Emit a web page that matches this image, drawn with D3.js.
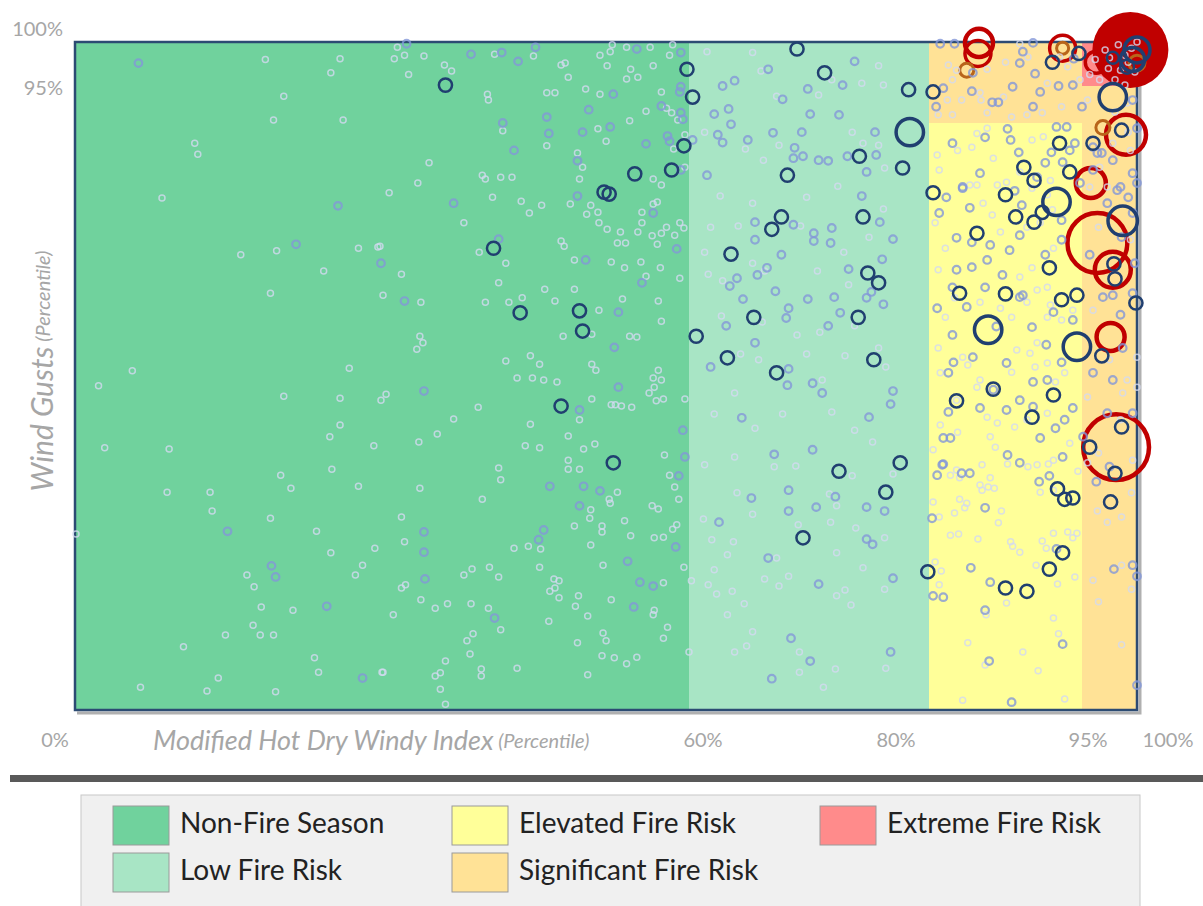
<!DOCTYPE html>
<html>
<head>
<meta charset="utf-8">
<script src="https://cdn.jsdelivr.net/npm/d3@7"></script>
<style>
body { margin: 0; background: #fff; }
svg { display: block; }
text { font-family: Lato, "Open Sans", sans-serif; }
</style>
</head>
<body>
<div id="chart"></div>
<script>
'use strict'

// risk zones, in percentiles: [x0, x1, y0, y1, zone]
var zoneNames = ["Non-Fire Season", "Low Fire Risk", "Elevated Fire Risk", "Significant Fire Risk", "Extreme Fire Risk"];
var zoneColors = ["#70d29d", "#a8e5c5", "#ffff99", "#ffe296", "#ff8b8b"];
var zoneRects = [
    [0, 60, 0, 100, 0],
    [60, 80, 0, 100, 1],
    [80, 95, 0, 90, 2],
    [80, 95, 90, 100, 3],
    [95, 100, 0, 95, 3],
    [95, 100, 95, 100, 4]
];

var xTicks = [0, 60, 80, 95, 100];
var yTicks = [95, 100];

// days with no notable fire (faint rings): [hdw percentile, gust percentile]
var lightPts = [
[18.6,98.0],[25.9,98.1],[25.0,96.5],[20.4,93.6],[19.4,90.4],[26.2,90.4],[11.7,86.9],[12.0,85.2],[8.5,78.5],[16.2,69.8],[19.7,70.4],[27.7,70.8],[29.6,71.0],[24.3,67.3],[19.1,63.9],[30.1,63.6],[5.6,52.0],[2.3,49.7],[26.8,52.4],[20.4,48.1],[25.9,47.8],[29.9,47.5],[25.9,43.7],[24.9,41.9],[2.9,40.2],[9.2,40.0],[29.2,40.5],[25.1,36.9],[20.1,36.0],[21.1,34.0],[27.7,34.3],[9.0,33.4],[13.2,33.4],[13.4,30.5],[19.1,29.4],[0.1,27.0],[23.6,27.4],[25.0,24.1],[29.3,24.8],[16.8,20.7],[17.5,18.9],[28.1,22.2],[27.4,20.7],[18.2,15.8],[21.3,15.3],[17.4,13.0],[14.7,11.5],[18.1,11.5],[19.4,11.5],[10.6,9.7],[23.4,8.0],[23.8,5.8],[30.0,5.8],[14.0,4.9],[6.4,3.5],[12.9,2.9],[19.6,2.8],
[33.8,62.5],[40.1,62.5],[42.4,62.5],[43.7,63.2],[45.9,64.5],[48.8,64.5],[46.9,62.7],[41.4,65.5],[51.2,61.3],[53.5,63.0],[57.0,62.7],[57.3,59.6],[33.7,57.3],[34.0,56.3],[33.4,55.3],[47.7,57.3],[50.5,57.6],[54.2,57.3],[54.9,57.2],[42.1,53.5],[44.5,54.3],[45.4,53.0],[43.2,50.9],[44.7,50.9],[45.8,50.6],[47.1,50.3],[50.5,53.0],[50.9,52.1],[57.0,52.1],[56.5,50.9],[57.3,50.6],[56.6,49.5],[56.1,48.6],[56.8,47.4],[57.5,47.7],[59.6,47.7],[30.4,48.4],[39.4,46.4],[37.0,44.6],[44.5,43.8],[49.3,44.5],[50.5,47.7],[52.4,46.8],[52.8,46.8],[53.4,46.6],[54.4,46.4],[35.4,42.3],[33.6,41.1],[44.0,40.5],[45.4,40.2],[48.2,42.0],[49.7,40.0],[50.8,40.8],[48.2,38.3],[48.2,36.9],[49.3,36.9],[57.6,39.1],[41.4,37.1],[41.6,35.3],[33.7,34.0],[39.8,32.3],[53.0,33.4],[52.2,32.3],[52.3,31.7],[50.4,30.7],[50.3,29.4],[58.1,36.0],[58.6,34.2],[59.0,32.3],[56.4,31.3],[57.0,30.8],[31.9,29.6],[32.2,25.8],[42.9,24.8],[44.3,25.1],[45.5,24.7],[48.8,28.2],[51.5,28.2],[51.5,27.3],[50.4,25.3],[53.7,29.0],[54.3,26.7],[56.6,26.4],[57.5,26.5],[58.4,27.7],[58.8,28.4],[51.6,22.2],[45.4,21.9],[59.5,21.9],[38.0,20.7],[38.8,21.6],[40.5,21.9],[41.4,20.4],[32.3,19.2],[31.9,18.7],[46.8,20.1],[47.3,19.8],[46.9,18.7],[46.4,18.2],[47.3,17.2],[49.2,17.5],[48.9,15.9],[57.5,19.5],[60.2,19.8],[33.8,16.9],[35.2,15.6],[36.4,16.3],[38.7,16.3],[40.4,15.6],[31.1,14.6],[41.6,12.3],[52.4,16.9],[56.6,15.3],[56.5,14.6],[50.1,14.4],[46.3,13.6],[38.9,11.7],[38.3,10.6],[38.6,8.6],[36.2,7.5],[35.7,5.7],[35.2,5.2],[35.7,3.2],[36.2,0.9],[30.1,5.8],[39.7,6.3],[39.7,5.2],[43.2,6.4],[49.1,10.3],[51.6,11.8],[51.9,10.6],[51.5,8.3],[52.7,8.0],[53.9,7.1],[54.9,8.1],[50.1,5.4],[57.9,12.7],[57.5,11.0],[60.0,8.9],
[31.5,99.4],[31.2,98.1],[32.2,98.5],[34.1,98.4],[32.6,96.3],[36.1,97.4],[36.8,96.7],[41.0,98.6],[44.8,98.4],[47.5,97.4],[47.9,97.6],[48.2,96.0],[51.3,98.5],[52.3,98.9],[52.5,99.7],[53.9,99.4],[56.2,99.4],[58.4,99.7],[58.1,98.5],[52.0,97.3],[54.3,96.9],[56.5,97.3],[53.9,95.8],[55.0,96.0],[49.9,94.6],[51.3,93.9],[46.1,94.1],[46.9,94.1],[40.3,93.9],[40.4,93.1],[57.3,94.2],[57.8,92.0],[58.3,91.4],[58.9,90.4],[59.6,88.2],[55.8,91.6],[54.2,90.3],[51.1,89.1],[51.9,87.2],[58.5,86.0],[41.8,88.8],[46.1,86.5],[34.6,83.9],[33.5,80.8],[30.7,79.3],[39.8,82.0],[40.1,81.4],[41.6,81.7],[42.7,81.7],[49.1,85.4],[49.6,83.2],[49.3,81.4],[56.5,81.4],[57.3,80.5],[59.6,83.2],[40.8,78.6],[43.6,78.0],[45.6,77.4],[44.4,76.2],[38.0,74.7],[48.4,77.6],[50.4,77.4],[51.1,76.3],[50.0,76.0],[51.2,74.7],[52.0,73.7],[56.5,77.6],[56.9,77.9],[55.4,76.3],[55.4,74.7],[55.0,73.3],[53.3,73.3],[53.0,71.6],[53.8,71.6],[56.4,72.7],[57.3,73.1],[57.8,74.0],[58.6,72.8],[59.1,74.7],[59.5,73.9],[56.9,71.4],[39.5,70.2],[47.5,71.9],[47.8,71.1],[48.8,69.0],[52.4,68.7],[55.3,68.7],[57.2,67.8],[53.7,67.8],[55.8,66.5],[59.1,66.2],[42.1,68.5],[31.9,66.8],[29.8,71.1],
[61.5,98.9],[65.3,98.8],[66.0,96.7],[67.3,93.6],[70.8,93.8],[71.9,95.7],[74.4,95.3],[75.8,97.3],[76.2,95.1],[61.3,88.6],[64.7,86.0],[66.2,84.3],[67.5,86.6],[73.6,88.6],[74.5,86.9],[75.8,86.6],[76.3,83.1],[62.6,78.8],[65.3,77.7],[69.8,78.6],[72.4,80.3],[76.2,76.8],[61.8,74.0],[64.1,74.2],[69.3,74.2],[72.9,70.2],[75.0,72.5],[61.3,70.2],[61.6,66.8],[62.8,65.8],[65.3,68.5],[66.3,67.3],[70.7,67.3],[73.3,65.2],[62.7,60.4],[66.1,59.5],[69.0,57.5],[70.9,57.9],[73.8,58.9],[75.8,55.5],[64.3,54.6],[65.8,53.7],[69.8,54.6],[73.0,54.3],[76.4,52.6],[71.1,50.6],[63.8,48.6],[62.1,45.4],[65.5,43.2],[67.8,45.4],[71.9,45.7],[73.8,42.9],[75.3,41.1],[61.3,37.6],[63.8,38.8],[68.9,37.4],[67.1,37.3],[71.7,33.1],[72.3,31.3],[73.6,35.9],[77.0,36.2],[64.0,33.3],[65.3,30.0],[61.2,29.3],[61.9,26.1],[63.7,25.8],[69.1,28.4],[71.8,28.8],[73.9,27.9],[76.3,26.4],[63.2,23.8],[67.3,23.3],[72.3,24.1],[62.1,21.5],[66.3,20.1],[68.3,20.5],[74.5,21.8],[76.3,18.5],[61.6,19.2],[62.3,17.8],[63.6,18.2],[64.6,16.3],[67.5,19.0],[73.0,18.4],[73.5,16.1],[72.3,17.5],[65.3,12.0],[63.2,14.6],[69.2,8.9],[63.8,8.9],[64.8,9.8],[72.2,6.3],[69.2,5.8],[71.2,3.5],[76.4,6.4],
[81.8,93.1],[80.9,91.1],[82.3,95.7],[82.7,96.8],[81.9,97.4],[85.0,94.1],[85.1,93.1],[85.7,91.4],[87.3,93.5],[87.5,97.7],[91.6,95.3],[91.1,91.4],[93.0,92.2],[94.8,95.7],[95.5,93.1],[93.6,97.2],[85.7,96.9],[83.2,93.1],[82.3,91.1],[88.1,90.8],[89.6,91.1],[92.8,98.3],[88.9,99.8],[89.7,98.3],
[85.7,89.2],[84.7,88.4],[82.8,85.8],[84.2,86.3],[86.3,84.6],[90.1,87.4],[91.2,87.9],[80.8,85.1],[81.0,82.8],[84.0,80.5],[86.7,80.5],[87.6,80.9],[88.9,82.5],[91.9,81.2],
[96.6,83.2],[98.0,91.5],[99.1,92.7],[99.4,85.8],[97.8,86.9],[99.2,88.6],[97.3,80.2],
[80.6,74.7],[84.7,80.5],[85.3,77.7],[86.2,75.9],[87.0,73.3],[89.6,74.0],[81.6,70.8],[80.9,67.5],[88.9,66.4],[90.1,67.8],[90.6,64.4],[89.6,62.5],[91.6,64.8],[92.2,70.8],[90.9,74.7],[92.1,76.7],[91.6,79.0],[90.1,80.0],[82.5,63.2],[81.6,60.2],[85.0,62.5],[87.0,61.6],[88.1,60.2],[91.6,60.2],[93.0,59.8],[94.1,61.3],[91.9,62.1],[80.9,55.5],[83.3,54.1],[83.8,52.9],[81.1,51.7],[85.0,50.6],[88.1,51.8],[88.6,55.2],[89.9,54.7],[90.6,56.3],[91.6,53.2],[93.3,51.7],[92.4,50.3],[90.4,52.6],[84.7,49.5],[82.7,47.5],[81.1,43.7],[82.8,42.6],[80.4,39.9],[85.7,44.9],[86.7,44.0],[88.4,43.4],[89.6,44.5],[91.6,45.5],[86.0,41.9],[86.5,40.3],[92.2,38.3],[93.8,40.9],[89.7,37.3],[85.2,37.6],
[95.7,80.2],[96.5,74.0],[96.0,61.3],[99.4,72.1],[98.7,48.6],[95.5,48.0],[98.5,44.5],[97.5,53.7],[100,54.1],[96.5,39.4],[99.6,38.3],[95.5,37.9],[100,49.5],[99.1,50.6],
[82.1,36.0],[82.7,36.8],[83.0,35.6],[85.0,34.5],[86.0,35.6],[85.2,33.7],[85.8,34.2],[86.4,34.0],[87.7,37.7],[90.6,37.6],[91.7,37.7],[90.9,33.4],[92.2,33.7],[94.6,36.6],[81.0,29.6],[82.5,30.2],[80.4,31.9],[83.0,32.3],[83.5,31.0],[83.7,31.7],[87.1,30.5],[86.8,28.7],[82.1,26.8],[82.9,27.0],[84.8,26.2],[88.0,25.8],[88.2,25.1],[88.9,24.2],[91.1,25.9],[91.5,24.8],[92.2,27.1],[93.6,27.3],[94.1,26.4],[94.5,27.1],[80.6,22.7],[81.2,21.3],[81.0,19.2],[87.6,16.4],[90.5,22.2],[92.6,19.3],[94.3,20.4],[85.6,14.6],[83.8,10.3],[85.5,6.9],[89.2,8.9],[90.7,6.0],[92.7,11.7],[92.2,14.1],[83.3,1.5],[93.3,1.7],
[96.4,30.5],[97.3,28.8],[98.6,29.6],[99.5,33.3],[98.6,22.2],[99.5,18.5],[96.0,19.9],[96.5,16.6],[98.6,10.0],
[97.1,99.1],[97.5,98.2],[98.3,99.7],[98.9,98.5],[99.5,99.3],[99.2,97.7],[98.5,96.8],[99.8,96.6],[97.4,97.0],[96.2,98.0],[95.7,96.3],[96.6,95.7],[98.0,95.7],[98.9,95.1],[100,100]
];

// days with small fires (blue rings)
var midPts = [
[6.2,97.6],[25.7,77.3],[21.6,71.4],[29.9,68.5],[14.9,27.4],[19.2,22.1],[19.6,20.4],[24.6,15.9],[28.1,4.9],
[32.2,62.7],[53.1,61.0],[55.4,65.5],[52.7,55.6],[53.1,49.5],[34.1,48.9],[49.3,46.0],[59.4,42.9],[59.6,38.8],[46.4,34.3],[49.7,34.3],[51.3,33.6],[49.3,31.3],[59.0,35.9],[34.1,27.3],[34.1,24.2],[45.3,26.1],[45.8,27.6],[58.7,25.0],[54.0,22.8],[34.2,20.1],[55.2,19.6],[56.5,19.0],[41.0,14.1],[54.6,15.8],
[32.4,99.8],[38.7,98.6],[41.7,98.8],[43.3,97.8],[45.0,99.4],[54.9,99.2],[59.2,98.8],[52.6,93.9],[59.2,94.9],[59.1,94.2],[57.3,92.3],[59.2,91.4],[59.4,90.5],[50.2,91.8],[46.1,90.8],[52.3,89.4],[49.6,88.6],[46.3,88.4],[55.8,86.8],[57.9,88.0],[58.1,87.2],[60.3,87.4],[41.8,90.0],[42.9,85.8],[49.1,84.2],[59.2,82.8],[37.0,77.7],[49.1,78.8],[56.5,76.2],[58.8,70.7],[41.4,72.2],[49.9,69.0],
[66.6,96.9],[63.8,95.6],[62.8,95.0],[67.8,93.2],[69.9,94.6],[72.8,95.1],[73.8,97.8],[63.3,91.9],[62.1,91.2],[63.5,89.8],[62.4,88.2],[62.8,87.0],[64.9,87.4],[67.0,88.5],[69.4,88.6],[70.1,91.2],[72.5,91.1],[71.6,84.2],[70.8,84.3],[68.8,86.2],[68.7,84.6],[69.5,84.9],[73.2,84.9],[75.5,88.6],[75.6,85.1],[74.8,82.5],[61.5,82.0],[65.5,74.8],[65.5,72.1],[68.7,74.4],[70.4,73.1],[70.4,71.9],[71.8,71.6],[71.9,73.9],[74.4,78.8],[75.9,74.8],[77.0,72.2],[67.7,69.8],[66.5,67.8],[65.7,66.7],[64.0,66.2],[63.4,65.0],[64.5,63.0],[67.2,64.2],[68.3,61.6],[68.1,60.1],[69.9,63.0],[72.1,63.3],[72.6,60.9],[73.3,67.6],[74.8,63.2],[75.2,64.1],[76.2,62.2],[76.1,69.1],[71.6,58.9],[63.1,58.9],[65.5,56.3],[61.8,52.6],[68.3,52.3],[68.2,49.8],[70.3,50.1],[71.1,48.6],[75.0,44.9],[77.0,48.9],[76.8,46.9],[64.4,44.8],[67.1,39.2],[70.3,39.9],[68.3,33.7],[65.2,32.5],[68.3,30.5],[70.6,31.1],[72.2,32.7],[74.8,31.1],[76.3,30.5],[62.5,28.8],[75.3,25.4],[74.8,26.2],[66.6,23.3],[70.8,19.3],[77.0,20.2],[68.5,11.0],[70.1,7.5],[66.9,4.8],[76.8,8.9],
[81.4,94.7],[80.7,92.2],[84.2,94.3],[86.2,92.8],[86.8,92.8],[88.2,94.9],[89.2,98.9],[88.9,97.6],[90.2,99.9],[90.4,96.4],[90.9,94.2],[92.7,95.0],[90.2,92.2],[94.1,95.1],[95.0,92.2],[94.2,98.1],[84.3,96.5],[81.1,99.8],[82.5,99.8],
[87.7,89.1],[88.0,87.4],[85.5,87.8],[82.3,86.9],[88.8,85.5],[92.5,89.4],[93.5,89.4],[94.3,86.9],[93.8,85.8],[92.0,85.5],[91.4,83.9],[93.1,84.0],[83.3,80.0],[85.0,82.3],[88.4,79.6],[90.6,81.7],[94.8,80.8],[96.0,82.8],
[96.4,85.4],[99.6,93.1],[100,89.2],[99.6,82.3],[96.8,85.4],[96.0,86.3],[97.8,84.3],[100,80.8],[98.5,80.2],
[81.7,78.6],[81.0,76.2],[84.0,77.0],[83.3,80.2],[86.0,71.3],[88.9,72.8],[87.9,70.5],[84.2,71.7],[82.7,72.4],[82.7,67.5],[84.2,67.9],[85.7,69.0],[87.2,66.7],[89.2,63.6],[91.4,69.8],[93.0,72.1],[93.0,75.1],[89.1,77.4],[82.3,64.8],[80.8,61.6],[83.7,61.8],[85.5,64.8],[88.9,63.3],[90.1,58.7],[92.2,61.0],[94.1,59.8],[82.3,57.5],[82.4,53.3],[84.3,54.1],[81.9,51.7],[87.6,53.2],[91.5,56.0],[93.0,53.3],[91.6,50.6],[86.3,49.1],[81.9,45.7],[81.4,41.7],[82.1,41.7],[81.3,37.6],[83.2,36.3],[85.0,46.3],[87.6,46.0],[90.2,46.5],[92.4,43.2],[93.3,44.5],[94.1,46.3],[88.9,47.5],[90.2,50.3],[87.7,39.1],[88.9,37.9],[90.9,41.7],[93.1,38.8],[84.0,36.3],[86.6,58.8],
[97.3,77.7],[95.7,69.8],[96.9,63.3],[97.8,63.6],[99.6,63.9],[98.5,60.6],[99.8,68.5],[96.0,51.7],[97.8,50.6],[97.3,45.5],[99.6,45.5],[98.7,55.5],[95.1,41.9],[97.5,37.3],[98.2,79.7],[99.2,78.6],[99.6,76.2],[98.6,72.5],
[81.4,37.7],[80.8,36.0],[91.8,35.9],[90.8,35.0],[80.3,29.4],[85.5,31.0],[92.5,24.7],[80.4,17.5],[81.4,17.3],[84.1,21.8],[86.0,19.6],[85.5,15.3],[85.9,7.5],[93.1,10.1],[88.1,1.2],
[96.3,35.0],[97.9,21.6],[99.6,22.2],[100,20.5],[100,3.8]
];

// larger fires (navy rings): [x, y, size]
var navyPts = [
[36.2,95.1,3],[59.8,96.9,3],[60.3,93.5,3],[59.5,86.5,3],[54.7,82.2,3],[58.3,82.8,3],[51.7,79.4,3],[52.2,79.1,3],[40.9,70.8,3],[43.5,60.9,3],[49.3,61.2,3],[49.6,58.1,3],[47.5,46.6,3],[52.6,37.9,3],[60.6,57.3,3],
[69.0,99.2,3],[71.3,96.5,3],[74.2,84.9,3],[68.2,82.0,3],[67.7,75.6,3],[66.9,73.7,3],[74.5,75.6,3],[63.5,69.9,3],[74.9,67.0,3],[75.8,65.5,3],[65.4,60.2,3],[74.1,60.2,3],[63.2,54.0,3],[67.3,51.7,3],[75.4,53.7,3],[72.5,36.6,3],[76.4,33.4,3],[69.5,26.4,3],[77.6,37.9,3],[77.8,83.1,3],[78.3,94.5,3],[80.4,94.2,3],[80.4,79.3,3],[79.9,21.2,3],[78.4,88.6,13],
[87.5,79.0,3],[88.5,75.6,3],[90.3,74.8,3],[91.1,76.3,3],[92.5,77.9,13],[84.7,73.1,3],[91.8,67.8,3],[83.0,63.9,3],[87.5,63.8,3],[93.0,62.9,3],[94.5,63.6,3],[85.8,58.3,13],[94.5,55.7,13],[96.8,54.3,3],[98.7,75.0,15],[97.9,68.4,3],[98.0,66.1,3],[99.9,62.4,3],[82.7,47.4,3],[86.3,49.2,3],[92.2,48.3,3],[90.1,44.9,3],[98.6,43.4,3],[95.7,40.3,3],[98.0,36.3,3],
[92.8,86.9,3],[89.3,83.2,3],[90.3,81.2,3],[93.8,82.5,3],[97.8,93.5,13],[98.6,88.9,3],[96.0,86.9,3],[92.1,97.7,3],[94.7,98.7,3],
[92.6,33.9,3],[93.3,32.3,3],[94.1,32.5,3],[93.1,24.1,3],[91.8,21.6,3],[87.5,18.7,3],[89.6,18.2,3],[97.6,31.9,3],
[100,99.1,11.7],[99.6,98.0,10],[99.1,97.2,3.4],[97.8,98.2,2.5]
];

// catastrophic fires (red rings) and the brown ones
var redPts = [
[84.9,99.9,13.6],[84.8,98.7,11.7],[93.1,99.3,11.7],[95.8,80.8,15.6],[99.0,88.2,27.7],[96.4,71.6,62],[97.8,67.5,22.4],[97.6,57.2,13.6],[98.1,40.3,75],[96.3,97.7,8.4]
];
var redFilled = [[99.4,99.1,100]];
var brownPts = [[83.7,96.8,3.4],[93.1,99.3,2.5],[96.9,89.3,3.4],[100,97.6,4.4]];

var width = 1203, height = 906;

var svg = d3.select("#chart").append("svg").attr("width", width).attr("height", height);

// piecewise scales, the chart stretches the upper percentiles
var x = d3.scaleLinear().domain([0, 60, 80, 95, 100]).range([75, 689, 929, 1082, 1137]);
var y = d3.scaleLinear().domain([0, 90, 95, 100]).range([710, 123, 86, 42]);
var r = d3.scaleSqrt().domain([0, 100]).range([0, 38]);

// zones
svg.append("g").selectAll("rect").data(zoneRects).enter().append("rect")
    .attr("x", function(d) { return x(d[0]); })
    .attr("y", function(d) { return y(d[3]); })
    .attr("width", function(d) { return x(d[1]) - x(d[0]); })
    .attr("height", function(d) { return y(d[2]) - y(d[3]); })
    .attr("fill", function(d) { return zoneColors[d[4]]; });

// frame with its little shadow
var x0 = x(0), x1 = x(100), y0 = y(0), y1 = y(100);
svg.append("path")
    .attr("d", "M" + (x1 + 3) + "," + (y1 + 4) + "V" + (y0 + 3) + "H" + (x0 + 2))
    .attr("fill", "none").attr("stroke", "#b0b0b0").attr("stroke-width", 3);
svg.append("rect")
    .attr("x", x0).attr("y", y1).attr("width", x1 - x0).attr("height", y0 - y1)
    .attr("fill", "none").attr("stroke", "#2c4b73").attr("stroke-width", 2.5);

// big filled red one and red rings
svg.append("g").selectAll("circle").data(redFilled).enter().append("circle")
    .attr("cx", function(d) { return x(d[0]); })
    .attr("cy", function(d) { return y(d[1]); })
    .attr("r", function(d) { return r(d[2]); })
    .attr("fill", "#c00000");

svg.append("g").selectAll("circle").data(redPts).enter().append("circle")
    .attr("cx", function(d) { return x(d[0]); })
    .attr("cy", function(d) { return y(d[1]); })
    .attr("r", function(d) { return r(d[2]); })
    .attr("fill", "none").attr("stroke", "#c00000")
    .attr("stroke-width", function(d) { return d[2] > 12 ? 4.5 : 3.5; });

svg.append("g").selectAll("circle").data(brownPts).enter().append("circle")
    .attr("cx", function(d) { return x(d[0]); })
    .attr("cy", function(d) { return y(d[1]); })
    .attr("r", function(d) { return r(d[2]); })
    .attr("fill", "none").attr("stroke", "#b8651b").attr("stroke-width", 3);

// faint rings
svg.append("g").selectAll("circle").data(lightPts).enter().append("circle")
    .attr("cx", function(d) { return x(d[0]); })
    .attr("cy", function(d) { return y(d[1]); })
    .attr("r", 3)
    .attr("fill", "none").attr("stroke", "#d3d9f0").attr("stroke-opacity", 0.8).attr("stroke-width", 1.5);

svg.append("g").selectAll("circle").data(midPts).enter().append("circle")
    .attr("cx", function(d) { return x(d[0]); })
    .attr("cy", function(d) { return y(d[1]); })
    .attr("r", 3.8)
    .attr("fill", "none").attr("stroke", "#8397d8").attr("stroke-opacity", 0.8).attr("stroke-width", 2.2);

// navy rings
svg.append("g").selectAll("circle").data(navyPts).enter().append("circle")
    .attr("cx", function(d) { return x(d[0]); })
    .attr("cy", function(d) { return y(d[1]); })
    .attr("r", function(d) { return r(d[2]); })
    .attr("fill", "none").attr("stroke", "#203f70")
    .attr("stroke-width", function(d) { return d[2] > 8 ? 3.5 : 2.5; });

// tick labels
var xTickNudge = [-20, 14, -33, 6, 31];
svg.append("g").selectAll("text").data(xTicks).enter().append("text")
    .attr("x", function(d, i) { return x(d) + xTickNudge[i]; })
    .attr("y", 742)
    .attr("text-anchor", "middle").attr("dominant-baseline", "middle")
    .attr("font-size", 20).attr("fill", "#a6a6a6")
    .text(function(d) { return d + "%"; });

var yTickNudge = [4, -11];
svg.append("g").selectAll("text").data(yTicks).enter().append("text")
    .attr("x", 63)
    .attr("y", function(d, i) { return y(d) + yTickNudge[i]; })
    .attr("text-anchor", "end").attr("dominant-baseline", "middle")
    .attr("font-size", 20).attr("fill", "#a6a6a6")
    .text(function(d) { return d + "%"; });

// axis titles
var xt = svg.append("text").attr("x", 153).attr("y", 743)
    .attr("dominant-baseline", "middle").attr("fill", "#a6a6a6").attr("font-style", "italic");
xt.append("tspan").attr("font-size", 27).text("Modified Hot Dry Windy Index");
xt.append("tspan").attr("font-size", 20).text(" (Percentile)");

var yt = svg.append("text").attr("transform", "translate(45,371) rotate(-90)")
    .attr("text-anchor", "middle").attr("dominant-baseline", "middle")
    .attr("fill", "#a6a6a6").attr("font-style", "italic");
yt.append("tspan").attr("font-size", 30).text("Wind Gusts");
yt.append("tspan").attr("font-size", 20).text(" (Percentile)");

// divider bar
svg.append("rect").attr("x", 10).attr("y", 775).attr("width", width - 10).attr("height", 7).attr("fill", "#595959");

// legend
var legend = svg.append("g");
legend.append("rect").attr("x", 81).attr("y", 795).attr("width", 1059).attr("height", 120)
    .attr("fill", "#f0f0f0").attr("stroke", "#c8c8c8");

var legendCol = [113, 452, 820];
var legendRow = [806, 853];
var legendSlots = [[0, 0], [0, 1], [1, 0], [1, 1], [2, 0]];

var items = legend.selectAll("g.item").data(zoneNames).enter().append("g").attr("class", "item")
    .attr("transform", function(d, i) {
        return "translate(" + legendCol[legendSlots[i][0]] + "," + legendRow[legendSlots[i][1]] + ")";
    });
items.append("rect").attr("width", 56).attr("height", 39)
    .attr("fill", function(d, i) { return zoneColors[i]; })
    .attr("stroke", "#9a9a9a").attr("stroke-width", 1);
items.append("text").attr("x", 67).attr("y", 20)
    .attr("dominant-baseline", "middle").attr("font-size", 28).attr("fill", "#222")
    .text(function(d) { return d; });
</script>
</body>
</html>
